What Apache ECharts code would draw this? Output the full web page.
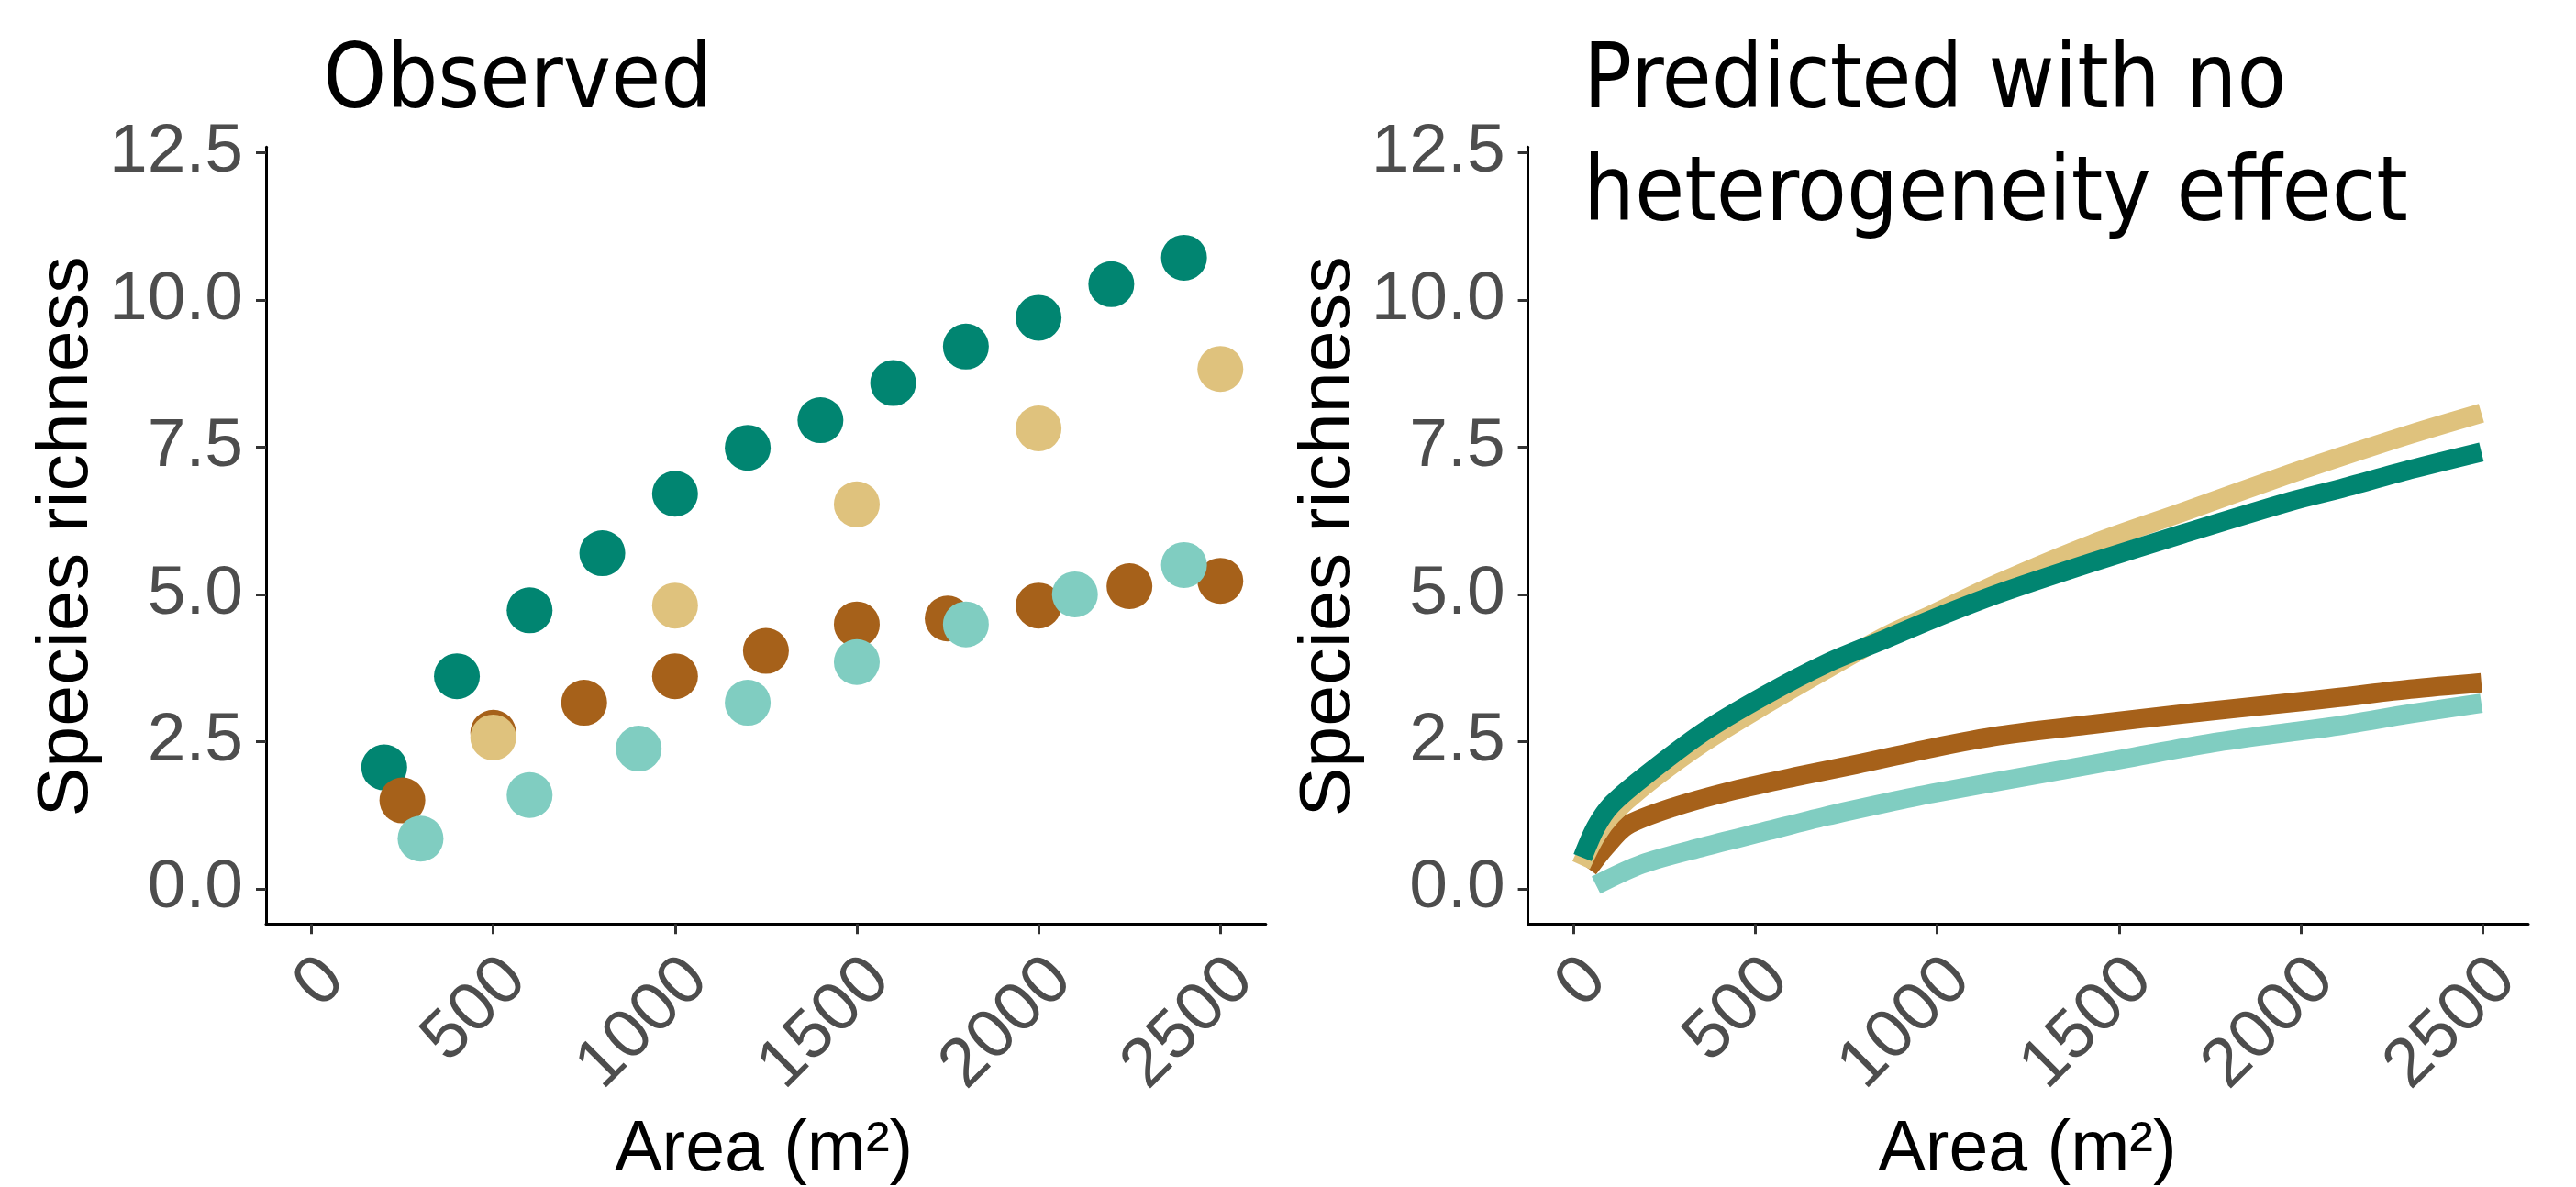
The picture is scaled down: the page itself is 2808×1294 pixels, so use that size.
<!DOCTYPE html>
<html>
<head>
<meta charset="utf-8">
<script src="https://cdn.jsdelivr.net/npm/echarts@6/dist/echarts.min.js"></script>
<style>
html,body{margin:0;padding:0;background:#fff;}
#chart{width:2808px;height:1294px;}
</style>
</head>
<body>
<div id="chart"></div>
<script>
// ---------- data ----------
const xTicks = [0, 500, 1000, 1500, 2000, 2500];
const yTicks = [0, 2.5, 5, 7.5, 10, 12.5];

// Observed panel (points)
const obsGreenX = [200, 400, 600, 800, 1000, 1200, 1400, 1600, 1800, 2000, 2200, 2400];
const obsGreenY = [2.06, 3.61, 4.73, 5.70, 6.71, 7.49, 7.96, 8.59, 9.21, 9.70, 10.27, 10.72];
const obsBrownX = [250, 500, 750, 1000, 1250, 1500, 1750, 2000, 2250, 2500];
const obsBrownY = [1.50, 2.65, 3.16, 3.61, 4.04, 4.49, 4.59, 4.81, 5.14, 5.23];
const obsTanX = [500, 1000, 1500, 2000, 2500];
const obsTanY = [2.57, 4.81, 6.53, 7.82, 8.83];
const obsTealX = [300, 600, 900, 1200, 1500, 1800, 2100, 2400];
const obsTealY = [0.85, 1.59, 2.38, 3.16, 3.85, 4.49, 5.00, 5.50];

// Predicted panel (curves)
const predGreenX = [25, 62, 105, 189, 357, 525, 693, 861, 987, 1172, 1424, 1676, 1971, 2105, 2300, 2496];
const predGreenY = [0.53, 1.05, 1.43, 1.88, 2.66, 3.28, 3.82, 4.25, 4.58, 5.02, 5.54, 6.03, 6.58, 6.79, 7.12, 7.42];
const predTanX = [21, 62, 105, 189, 357, 525, 693, 861, 987, 1172, 1424, 1676, 1971, 2105, 2300, 2496];
const predTanY = [0.40, 0.90, 1.25, 1.72, 2.48, 3.12, 3.72, 4.30, 4.66, 5.20, 5.85, 6.40, 7.05, 7.33, 7.72, 8.08];
const predBrownX = [41, 88, 146, 273, 441, 609, 777, 987, 1172, 1424, 1676, 1971, 2105, 2300, 2496];
const predBrownY = [0.34, 0.71, 1.07, 1.38, 1.67, 1.90, 2.11, 2.39, 2.60, 2.79, 2.97, 3.16, 3.25, 3.39, 3.50];
const predTealX = [62, 189, 357, 525, 693, 861, 987, 1256, 1508, 1760, 1971, 2105, 2300, 2496];
const predTealY = [0.06, 0.42, 0.71, 0.97, 1.23, 1.46, 1.62, 1.92, 2.20, 2.48, 2.66, 2.77, 2.97, 3.15];

const titleLeft = 'Observed';
const titleRight1 = 'Predicted with no';
const titleRight2 = 'heterogeneity effect';
const xName = 'Area (m²)';
const yName = 'Species richness';

// ---------- styling ----------
const C_GREEN = '#018571', C_BROWN = '#a6611a', C_TAN = '#dfc27d', C_TEAL = '#80cdc1';
const TICK_FONT = 'Liberation Sans, Arial, sans-serif';
const zip = (xs, ys) => xs.map((x, i) => [x, ys[i]]);

function xAxisCfg(gi) {
  return {
    type: 'value', gridIndex: gi, min: -125, max: 2625,
    splitLine: {show: false},
    axisLine: {show: true, onZero: false, lineStyle: {color: '#000', width: 3}},
    axisTick: {show: true, length: 11, customValues: xTicks, lineStyle: {color: '#333', width: 3}},
    axisLabel: {
      show: true, customValues: xTicks, rotate: 45, margin: 25,
      align: 'right', verticalAlign: 'top', lineHeight: 69,
      formatter: v => String(Math.round(v)),
      color: '#4d4d4d', fontFamily: TICK_FONT, fontSize: 75
    }
  };
}
function yAxisCfg(gi) {
  return {
    type: 'value', gridIndex: gi, min: -0.6, max: 12.6,
    splitLine: {show: false},
    axisLine: {show: true, onZero: false, lineStyle: {color: '#000', width: 3}},
    axisTick: {show: true, length: 11, customValues: yTicks, lineStyle: {color: '#333', width: 3}},
    axisLabel: {
      show: true, customValues: yTicks, margin: 25,
      formatter: v => Number(v).toFixed(1),
      color: '#4d4d4d', fontFamily: TICK_FONT, fontSize: 75
    }
  };
}
function scatter(xs, ys, color) {
  return {type: 'scatter', xAxisIndex: 0, yAxisIndex: 0, data: zip(xs, ys),
    symbol: 'circle', symbolSize: 50, itemStyle: {color: color, opacity: 1}, silent: true};
}
function curve(xs, ys, color) {
  return {type: 'line', xAxisIndex: 1, yAxisIndex: 1, data: zip(xs, ys),
    smooth: 0.3, showSymbol: false, symbol: 'none',
    lineStyle: {color: color, width: 21, cap: 'butt', join: 'round'}, silent: true};
}
function txt(x, y, text, opts) {
  return Object.assign({type: 'text', x: x, y: y, silent: true,
    style: Object.assign({text: text, fill: '#000'}, opts.style)}, opts.props || {});
}

const chart = echarts.init(document.getElementById('chart'), null, {renderer: 'canvas'});
chart.setOption({
  animation: false,
  backgroundColor: '#fff',
  grid: [
    {left: 290, top: 160.3, width: 1089.8, height: 847, outerBoundsMode: 'none', containLabel: false},
    {left: 1665.6, top: 160.3, width: 1090.4, height: 847, outerBoundsMode: 'none', containLabel: false}
  ],
  xAxis: [xAxisCfg(0), xAxisCfg(1)],
  yAxis: [yAxisCfg(0), yAxisCfg(1)],
  series: [
    scatter(obsGreenX, obsGreenY, C_GREEN),
    scatter(obsBrownX, obsBrownY, C_BROWN),
    scatter(obsTanX, obsTanY, C_TAN),
    scatter(obsTealX, obsTealY, C_TEAL),
    curve(predBrownX, predBrownY, C_BROWN),
    curve(predTanX, predTanY, C_TAN),
    curve(predTealX, predTealY, C_TEAL),
    curve(predGreenX, predGreenY, C_GREEN)
  ],
  graphic: [
    txt(352, 92, titleLeft, {style: {font: '98px "DejaVu Sans Condensed", "DejaVu Sans", sans-serif', textAlign: 'left', verticalAlign: 'middle'}}),
    txt(1726, 92, titleRight1, {style: {font: '98px "DejaVu Sans Condensed", "DejaVu Sans", sans-serif', textAlign: 'left', verticalAlign: 'middle'}}),
    txt(1726, 215, titleRight2, {style: {font: '98px "DejaVu Sans Condensed", "DejaVu Sans", sans-serif', textAlign: 'left', verticalAlign: 'middle'}}),
    txt(832.7, 1255, xName, {style: {font: '77px "Liberation Sans", Arial, sans-serif', textAlign: 'center', verticalAlign: 'middle'}}),
    txt(2210, 1255, xName, {style: {font: '77px "Liberation Sans", Arial, sans-serif', textAlign: 'center', verticalAlign: 'middle'}}),
    txt(74, 585, yName, {style: {font: '77px "Liberation Sans", Arial, sans-serif', textAlign: 'center', verticalAlign: 'middle'}, props: {rotation: Math.PI / 2, scaleX: 1.05}}),
    txt(1450, 585, yName, {style: {font: '77px "Liberation Sans", Arial, sans-serif', textAlign: 'center', verticalAlign: 'middle'}, props: {rotation: Math.PI / 2, scaleX: 1.05}})
  ]
});
</script>
</body>
</html>
